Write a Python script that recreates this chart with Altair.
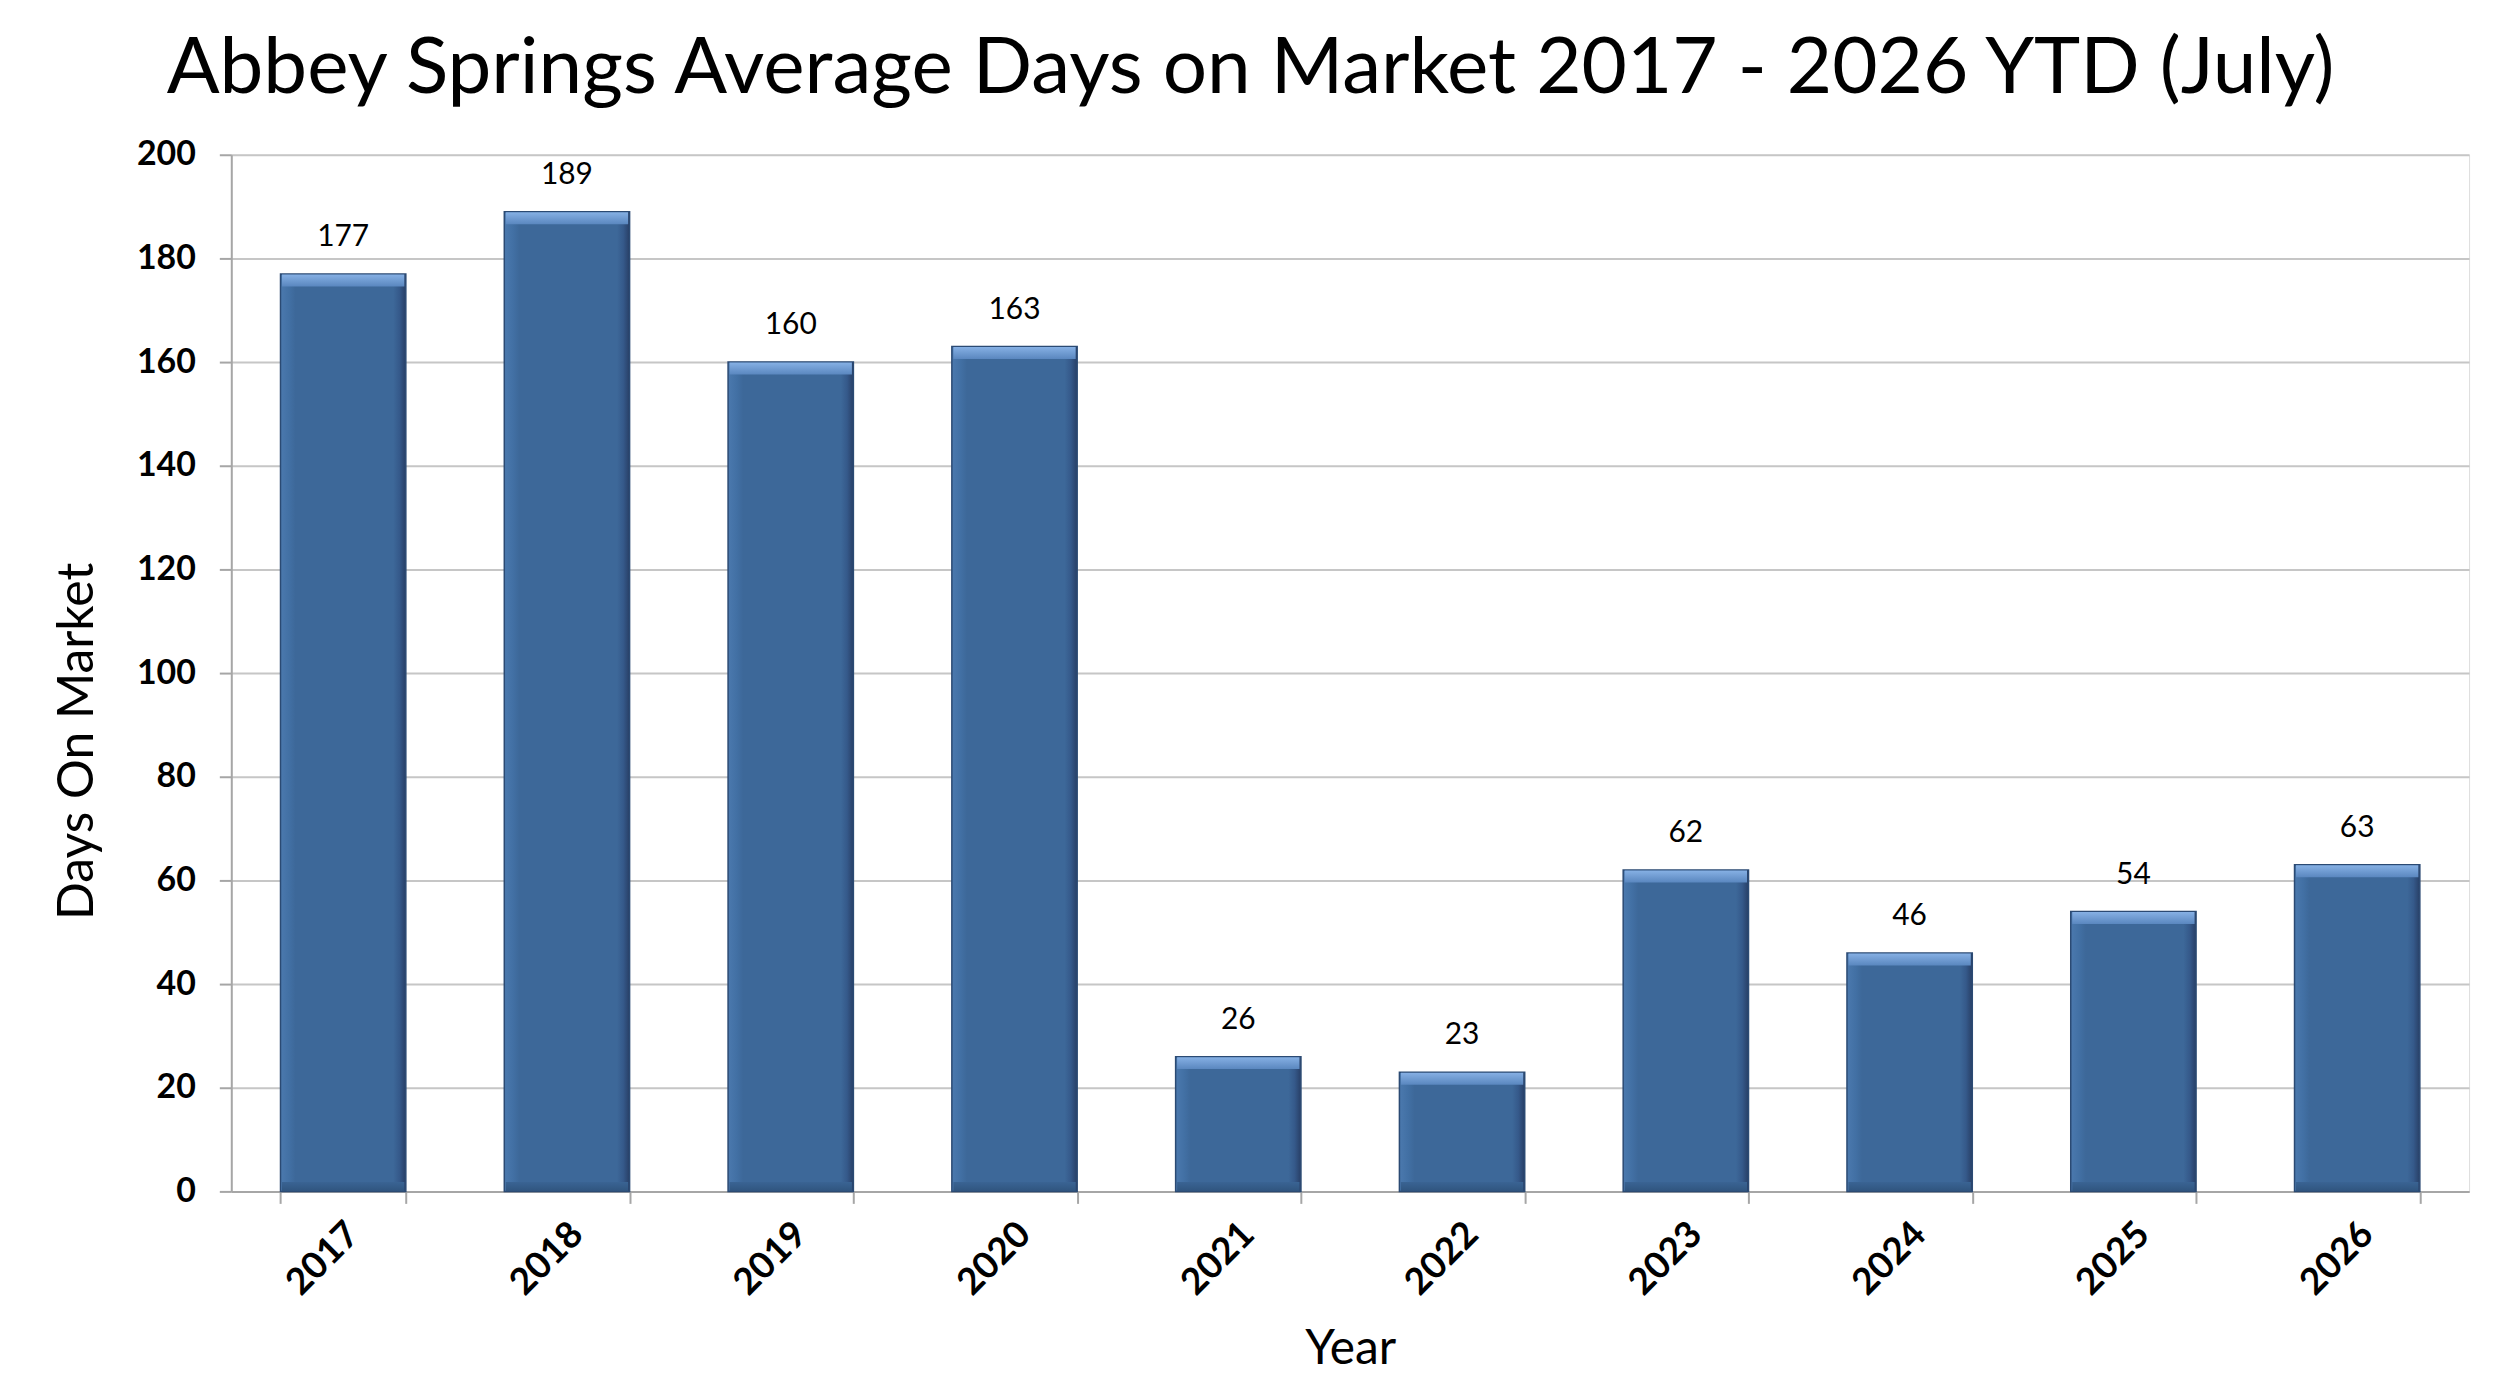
import altair as alt
import pandas as pd

years = ["2017", "2018", "2019", "2020", "2021", "2022", "2023", "2024", "2025", "2026"]
days = [177, 189, 160, 163, 26, 23, 62, 46, 54, 63]
y_ticks = [0, 20, 40, 60, 80, 100, 120, 140, 160, 180, 200]

df = pd.DataFrame({"Year": years, "Days": days})

W, H = 2245, 1040
PAD_INNER, PAD_OUTER = 0.44, 0.22
step = W / (len(years) - PAD_INNER + 2 * PAD_OUTER)
bw = step * (1 - PAD_INNER)

FONT = "Lato"
x_enc = alt.X("Year:N", sort=years,
              scale=alt.Scale(paddingInner=PAD_INNER, paddingOuter=PAD_OUTER),
              axis=alt.Axis(title="Year", labelAngle=-45, labelAlign="right",
                            labelBaseline="middle", labelPadding=25, labelOffset=10,
                            labelFont=FONT, labelFontSize=37, labelFontWeight="bold",
                            labelColor="black", titleFont=FONT, titleFontSize=48,
                            titleFontWeight="normal", titleColor="black", titlePadding=24,
                            tickBand="extent", tickSize=12, tickColor="#A6A6A6",
                            tickWidth=2, domainColor="#A6A6A6", domainWidth=2, grid=False))
y_scale = alt.Scale(domain=[0, 200], nice=False)

main_grad = alt.Gradient(
    gradient="linear", x1=0, x2=1, y1=0, y2=0,
    stops=[alt.GradientStop(color="#4B79AE", offset=0),
           alt.GradientStop(color="#4270A4", offset=0.07),
           alt.GradientStop(color="#3D6899", offset=0.12),
           alt.GradientStop(color="#3D6899", offset=0.9),
           alt.GradientStop(color="#35598A", offset=0.95),
           alt.GradientStop(color="#283F66", offset=1)])
top_grad = alt.Gradient(
    gradient="linear", x1=0, x2=0, y1=0, y2=1,
    stops=[alt.GradientStop(color="#86B0E4", offset=0),
           alt.GradientStop(color="#5A87BF", offset=1)])
bot_grad = alt.Gradient(
    gradient="linear", x1=0, x2=0, y1=0, y2=1,
    stops=[alt.GradientStop(color="#3A6494", offset=0),
           alt.GradientStop(color="#30557F", offset=1)])

base = alt.Chart(df)

bars = base.mark_bar(color=main_grad, stroke="#2B4A73", strokeWidth=1.5).encode(
    x=x_enc,
    y=alt.Y("Days:Q", scale=y_scale,
            axis=alt.Axis(title="Days On Market", values=y_ticks, labelFont=FONT,
                          labelFontSize=34, labelFontWeight="bold", labelColor="black",
                          labelPadding=24, titleFont=FONT, titleFontSize=50,
                          titleFontWeight="normal", titleColor="black", titlePadding=34,
                          titleY=588,
                          tickSize=12, tickColor="#A6A6A6", tickWidth=2,
                          domainColor="#A6A6A6", domainWidth=2,
                          gridColor="#C6C6C6", gridWidth=2)),
)

top_band = base.mark_tick(color=top_grad, thickness=12, size=bw - 3, yOffset=6.5,
                          opacity=1).encode(x=alt.X("Year:N", sort=years),
                                            y=alt.Y("Days:Q", scale=y_scale))
bot_band = base.mark_tick(color=bot_grad, thickness=9, size=bw - 3, yOffset=-5,
                          opacity=1).encode(x=alt.X("Year:N", sort=years),
                                            y=alt.YDatum(0))

labels = base.mark_text(font=FONT, fontSize=30, color="black", baseline="bottom",
                        dy=-22).encode(x=alt.X("Year:N", sort=years),
                                       y=alt.Y("Days:Q", scale=y_scale),
                                       text=alt.Text("Days:Q"))

chart = alt.layer(bars, top_band, bot_band, labels).properties(
    width=W, height=H,
    title=alt.TitleParams("Abbey Springs Average Days on Market 2017 - 2026 YTD (July)",
                          font=FONT, fontSize=78.5, fontWeight="normal", color="black",
                          anchor="middle", offset=28, dx=-100),
    autosize=alt.AutoSizeParams(type="none"),
    padding={"left": 224, "top": 145, "right": 23, "bottom": 195},
).configure_view(stroke="#BFBFBF", strokeWidth=2).configure(background="white")

chart.save("out.html", embed_options={"renderer": "svg", "actions": False})
